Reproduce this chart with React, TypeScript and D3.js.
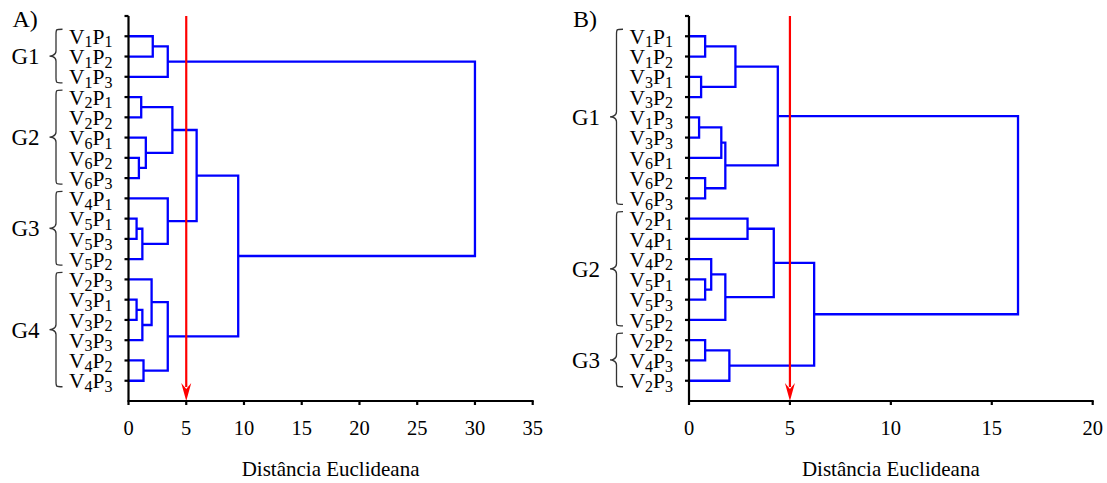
import React from "react";
import * as d3 from "d3";

// leaf order (top to bottom) and linkage: [childA, childB, height]
// child index < 18 is a leaf, otherwise 18 + merge number
const leavesA = ["V1P1", "V1P2", "V1P3", "V2P1", "V2P2", "V6P1", "V6P2", "V6P3", "V4P1",
  "V5P1", "V5P3", "V5P2", "V2P3", "V3P1", "V3P2", "V3P3", "V4P2", "V4P3"];
const linkA: [number, number, number][] = [
  [0, 1, 2.1], [18, 2, 3.4], [3, 4, 1.1], [6, 7, 0.9], [5, 21, 1.5], [20, 22, 3.8],
  [9, 10, 0.7], [24, 11, 1.2], [8, 25, 3.4], [23, 26, 5.9], [13, 14, 0.7], [28, 15, 1.2],
  [12, 29, 2.0], [16, 17, 1.3], [30, 31, 3.4], [27, 32, 9.5], [19, 33, 30.0],
];
const groupsA: [string, number, number][] = [["G1", 0, 2], ["G2", 3, 7], ["G3", 8, 11], ["G4", 12, 17]];
const ticksA = [0, 5, 10, 15, 20, 25, 30, 35];

const leavesB = ["V1P1", "V1P2", "V3P1", "V3P2", "V1P3", "V3P3", "V6P1", "V6P2", "V6P3",
  "V2P1", "V4P1", "V4P2", "V5P1", "V5P3", "V5P2", "V2P2", "V4P3", "V2P3"];
const linkB: [number, number, number][] = [
  [0, 1, 0.8], [2, 3, 0.6], [18, 19, 2.3], [4, 5, 0.5], [21, 6, 1.6], [7, 8, 0.8],
  [22, 23, 1.8], [20, 24, 4.4], [9, 10, 2.9], [12, 13, 0.8], [11, 27, 1.1], [28, 14, 1.8],
  [26, 29, 4.2], [15, 16, 0.8], [31, 17, 2.0], [30, 32, 6.2], [25, 33, 16.3],
];
const groupsB: [string, number, number][] = [["G1", 0, 8], ["G2", 9, 14], ["G3", 15, 17]];
const ticksB = [0, 5, 10, 15, 20];

const cutLevel = 5;
const font = "'Liberation Serif', 'Times New Roman', serif";

function Panel({ left, right, leaves, link, groups, ticks, title }: any) {
  const top = 16;
  const bottom = 401;
  const x = d3.scaleLinear().domain([0, ticks[ticks.length - 1]]).range([left, right]);
  const y = d3.scaleLinear().domain([0, leaves.length + 1]).range([top, bottom]);
  const n = leaves.length;

  // node positions
  const pos: { h: number; i: number }[] = leaves.map((_: string, i: number) => ({ h: 0, i: i + 1 }));
  link.forEach(([a, b, h]: number[]) => {
    pos.push({ h, i: (pos[a].i + pos[b].i) / 2 });
  });

  const paths = link.map(([a, b, h]: number[]) => {
    const pa = pos[a], pb = pos[b];
    return `M${x(pa.h)},${y(pa.i)}H${x(h)}V${y(pb.i)}H${x(pb.h)}`;
  });

  const brace = (y0: number, y1: number, x0: number, w: number) => {
    const m = (y0 + y1) / 2;
    const r = 5;
    const xm = x0 + w / 2;
    return `M${x0 + w},${y0} C${xm},${y0} ${xm},${y0} ${xm},${y0 + r} L${xm},${m - r} C${xm},${m} ${x0},${m} ${x0},${m}` +
      ` C${x0},${m} ${xm},${m} ${xm},${m + r} L${xm},${y1 - r} C${xm},${y1} ${xm},${y1} ${x0 + w},${y1}`;
  };

  const cx = x(cutLevel);
  return (
    <g fontFamily={font} fill="#000">
      <text x={left - 116} y={27} fontSize={24}>{title}</text>

      {/* dendrogram */}
      <g fill="none" stroke="#0000ff" strokeWidth={2.3}>
        {paths.map((d: string, k: number) => <path key={k} d={d} />)}
      </g>

      {/* cut line */}
      <line x1={cx} x2={cx} y1={top} y2={bottom - 14} stroke="#ff0000" strokeWidth={2.2} />
      <path d={`M${cx},${bottom} L${cx - 5},${bottom - 18} L${cx},${bottom - 12} L${cx + 5},${bottom - 18} Z`} fill="#ff0000" />

      {/* y axis */}
      <line x1={left} x2={left} y1={top} y2={bottom} stroke="#000" strokeWidth={2.2} />
      {d3.range(0, n + 1).map((i) => (
        <line key={i} x1={left - 4} x2={left} y1={y(i)} y2={y(i)} stroke="#000" strokeWidth={2.2} />
      ))}
      {leaves.map((name: string, i: number) => (
        <text key={name + i} x={left - 16} y={y(i + 1) + 7.7} textAnchor="end" fontSize={21.5}>
          {name[0]}
          <tspan fontSize={16} dy={3.5}>{name[1]}</tspan>
          <tspan dy={-3.5}>{name[2]}</tspan>
          <tspan fontSize={16} dy={3.5}>{name[3]}</tspan>
        </text>
      ))}

      {/* groups */}
      {groups.map(([g, a, b]: [string, number, number]) => {
        const y0 = y(a + 1) - 7;
        const y1 = y(b + 1) + 6;
        return (
          <g key={g}>
            <path d={brace(y0, y1, left - 79, 13)} fill="none" stroke="#333" strokeWidth={1.3} />
            <text x={left - 89} y={(y0 + y1) / 2 + 8} textAnchor="end" fontSize={23}>{g}</text>
          </g>
        );
      })}

      {/* x axis */}
      <line x1={left - 1} x2={right + 1} y1={bottom} y2={bottom} stroke="#000" strokeWidth={2.2} />
      {ticks.map((t: number) => (
        <g key={t}>
          <line x1={x(t)} x2={x(t)} y1={bottom} y2={bottom + 4} stroke="#000" strokeWidth={2.2} />
          <text x={x(t)} y={435} textAnchor="middle" fontSize={20.5}>{t}</text>
        </g>
      ))}
      <text x={(left + right) / 2} y={476} textAnchor="middle" fontSize={21}>Distância Euclideana</text>
    </g>
  );
}

export default function App() {
  return (
    <svg width={1107} height={483} style={{ position: "absolute", left: 0, top: 0, background: "#fff" }}>
      <rect width={1107} height={483} fill="#fff" />
      <Panel left={128.5} right={532.7} leaves={leavesA} link={linkA} groups={groupsA} ticks={ticksA} title="A)" />
      <Panel left={689} right={1092.7} leaves={leavesB} link={linkB} groups={groupsB} ticks={ticksB} title="B)" />
    </svg>
  );
}
